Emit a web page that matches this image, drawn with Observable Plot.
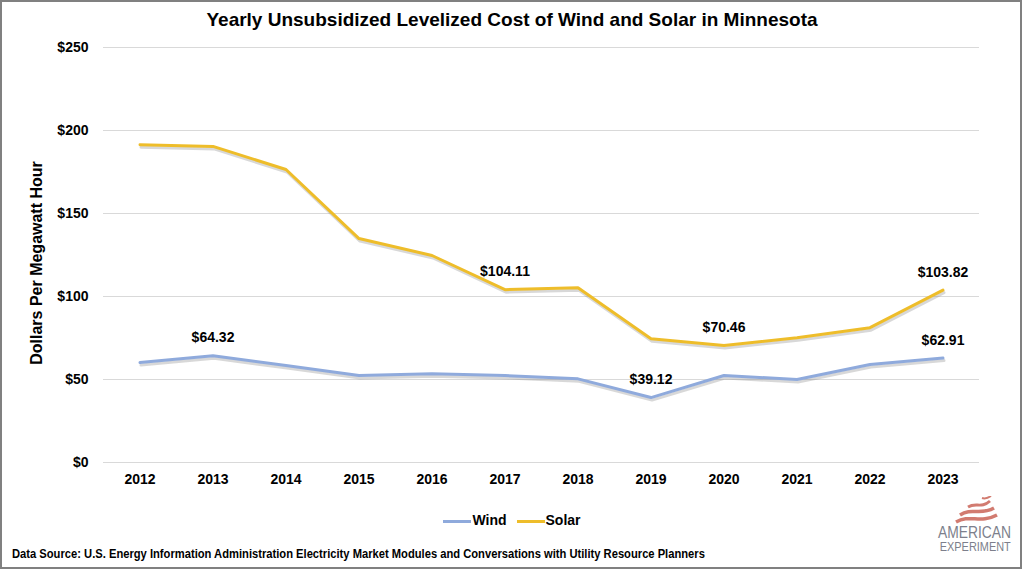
<!DOCTYPE html>
<html><head><meta charset="utf-8">
<script src="https://cdn.jsdelivr.net/npm/d3@7"></script>
<script src="https://cdn.jsdelivr.net/npm/@observablehq/plot@0.6"></script>
<style>
html,body{margin:0;padding:0;background:#fff;width:1024px;height:573px;overflow:hidden;font-family:"Liberation Sans",Arial,sans-serif;}
#border{position:absolute;left:0;top:0;width:1022px;height:569px;border:2px solid #808080;box-sizing:border-box;}
#title{position:absolute;left:0;top:9px;width:1024px;text-align:center;font-weight:bold;font-size:19px;line-height:22px;color:#000;}
#chart{position:absolute;left:0;top:30px;}
#legend{position:absolute;left:0;top:510px;width:1024px;text-align:center;font-weight:bold;font-size:14px;line-height:20px;color:#000;}
#legend .item{display:inline-block;margin:0 5px;}
#legend .sw{display:inline-block;width:28px;height:3px;vertical-align:middle;margin-right:1px;}
#caption{position:absolute;left:12px;top:546px;font-weight:bold;font-size:13px;line-height:16px;color:#000;white-space:nowrap;transform:scaleX(0.86);transform-origin:0 50%;}
#logo{position:absolute;left:930px;top:496px;width:90px;text-align:center;color:#7d7f8c;}
#logo .t{display:inline-block;white-space:nowrap;transform:scaleX(0.84);transform-origin:50% 50%;}
</style>
</head><body>
<div id="border"></div>
<div id="title">Yearly Unsubsidized Levelized Cost of Wind and Solar in Minnesota</div>
<div id="chart"></div>
<div id="legend"></div>
<div id="caption">Data Source: U.S. Energy Information Administration Electricity Market Modules and Conversations with Utility Resource Planners</div>
<div id="logo">
<svg width="50" height="29" viewBox="0 0 50 29" style="display:block;margin:0 auto;">
<path d="M32 2 C35 3 38 2 41 0" stroke="#d27b70" stroke-width="2" fill="none"/>
<path d="M18 11 C26 6 31 13 40 5" stroke="#d27b70" stroke-width="3" fill="none"/>
<path d="M10 19 C22 11 30 20 44 12" stroke="#d27b70" stroke-width="3.5" fill="none"/>
<path d="M6 26 C20 18 30 28 47 19" stroke="#d27b70" stroke-width="3.5" fill="none"/>
</svg>
<div style="font-size:16.5px;line-height:15px;"><span class="t">AMERICAN</span></div>
<div style="font-size:13px;line-height:14px;"><span class="t">EXPERIMENT</span></div>
</div>
<script>
const years = [2012, 2013, 2014, 2015, 2016, 2017, 2018, 2019, 2020, 2021, 2022, 2023];
const wind  = [60.2, 64.32, 58.4, 52.4, 53.4, 52.4, 50.4, 39.12, 52.4, 50.0, 59.0, 62.91];
const solar = [191.4, 190.4, 176.5, 134.9, 124.7, 104.11, 105.3, 74.6, 70.46, 75.2, 81.2, 103.82];
const yTicks = [0, 50, 100, 150, 200, 250];
const yLabel = "Dollars Per Megawatt Hour";
const seriesNames = ["Wind", "Solar"];
const seriesColors = ["#8faadc", "#eebd2a"];
const annSeries = ["Wind", "Solar", "Wind", "Solar", "Solar", "Wind"];
const annYears  = [2013, 2017, 2019, 2020, 2023, 2023];
const annValues = [64.32, 104.11, 39.12, 70.46, 103.82, 62.91];

const rows = [];
years.forEach((yr, i) => {
  rows.push({series: "Wind", year: yr, value: wind[i]});
  rows.push({series: "Solar", year: yr, value: solar[i]});
});
const anns = annYears.map((yr, i) => ({series: annSeries[i], year: yr, value: annValues[i]}));

const plot = Plot.plot({
  width: 1024,
  height: 462,
  marginTop: 17,
  marginBottom: 30,
  marginLeft: 103,
  marginRight: 45,
  style: {fontFamily: "'Liberation Sans', Arial, sans-serif", fontSize: "14px", fontWeight: "bold", color: "#000", background: "transparent"},
  x: {domain: [2011.5, 2023.5]},
  y: {domain: [0, 250]},
  color: {domain: seriesNames, range: seriesColors},
  marks: [
    Plot.ruleY(yTicks, {stroke: "#d9d9d9", strokeWidth: 1}),
    Plot.axisX({ticks: years, tickSize: 0, tickPadding: 12, tickFormat: d => String(d), label: null, fontSize: 14, fontWeight: "bold"}),
    Plot.axisY({ticks: yTicks, tickSize: 0, tickPadding: 15, tickFormat: d => "$" + d, label: null, fontSize: 14, fontWeight: "bold"}),
    Plot.text([yLabel], {frameAnchor: "left", text: d => d, rotate: -90, textAnchor: "middle", dx: -67, dy: 8, fontSize: 16, fontWeight: "bold", fill: "#000"}),
    Plot.line(rows, {x: "year", y: "value", z: "series", stroke: "#7f7f7f", strokeOpacity: 0.3, strokeWidth: 3, dx: 1, dy: 2.5}),
    Plot.line(rows, {x: "year", y: "value", z: "series", stroke: "series", strokeWidth: 3}),
    Plot.text(anns, {x: "year", y: "value", text: d => "$" + d.value.toFixed(2), dy: -18, fill: "#000", fontSize: 14, fontWeight: "bold"})
  ]
});
document.getElementById("chart").appendChild(plot);

const legend = document.getElementById("legend");
seriesNames.forEach((name, i) => {
  const item = document.createElement("span");
  item.className = "item";
  item.innerHTML = `<span class="sw" style="background:${seriesColors[i]}"></span>${name}`;
  legend.appendChild(item);
});
</script>
</body></html>
